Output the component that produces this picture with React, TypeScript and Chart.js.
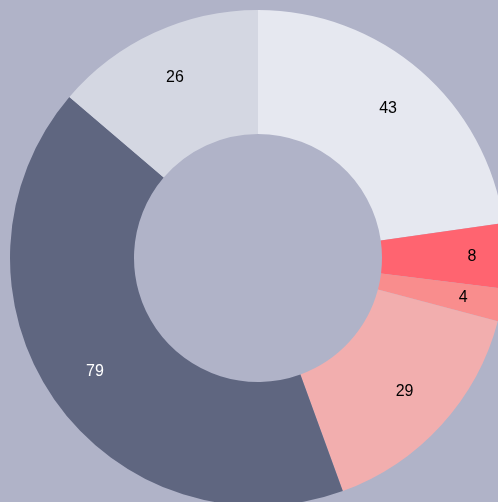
import React, { useEffect, useRef } from "react";
import { Chart, registerables } from "chart.js";

Chart.register(...registerables);

const labels = ["A", "B", "C", "D", "E", "F"];
const values = [43, 8, 4, 29, 79, 26];
const colors = ["#e6e8f0", "#ff6470", "#f98d8d", "#f2aeae", "#5f6680", "#d4d7e2"];
const labelColors = ["#000000", "#000000", "#000000", "#000000", "#ffffff", "#000000"];
const labelRadius = [0.8, 0.863, 0.843, 0.8, 0.8, 0.8];

const valueLabels = {
  id: "valueLabels",
  afterDatasetsDraw(chart: any) {
    const ctx = chart.ctx;
    const meta = chart.getDatasetMeta(0);
    ctx.save();
    ctx.font = "16px 'Liberation Sans', Arial, sans-serif";
    ctx.textAlign = "center";
    ctx.textBaseline = "middle";
    meta.data.forEach((arc: any, i: number) => {
      const { startAngle, endAngle, outerRadius, x, y } = arc.getProps(["startAngle", "endAngle", "outerRadius", "x", "y"], true);
      const mid = (startAngle + endAngle) / 2;
      const r = outerRadius * labelRadius[i];
      ctx.fillStyle = labelColors[i];
      ctx.fillText(String(values[i]), x + Math.cos(mid) * r, y + Math.sin(mid) * r);
    });
    ctx.restore();
  },
};

export default function App() {
  const ref = useRef<HTMLCanvasElement>(null);
  useEffect(() => {
    document.body.style.background = "#b0b3c8";
    const chart = new Chart(ref.current!, {
      type: "doughnut",
      data: {
        labels,
        datasets: [
          {
            data: values,
            backgroundColor: colors,
            borderWidth: 0,
          },
        ],
      },
      options: {
        responsive: false,
        animation: false,
        cutout: "50%",
        layout: { padding: 2 },
        plugins: { legend: { display: false }, tooltip: { enabled: false } },
      },
      plugins: [valueLabels],
    });
    return () => chart.destroy();
  }, []);
  return (
    <canvas
      ref={ref}
      width={500}
      height={500}
      style={{ display: "block", position: "absolute", left: 8, top: 8 }}
    />
  );
}
